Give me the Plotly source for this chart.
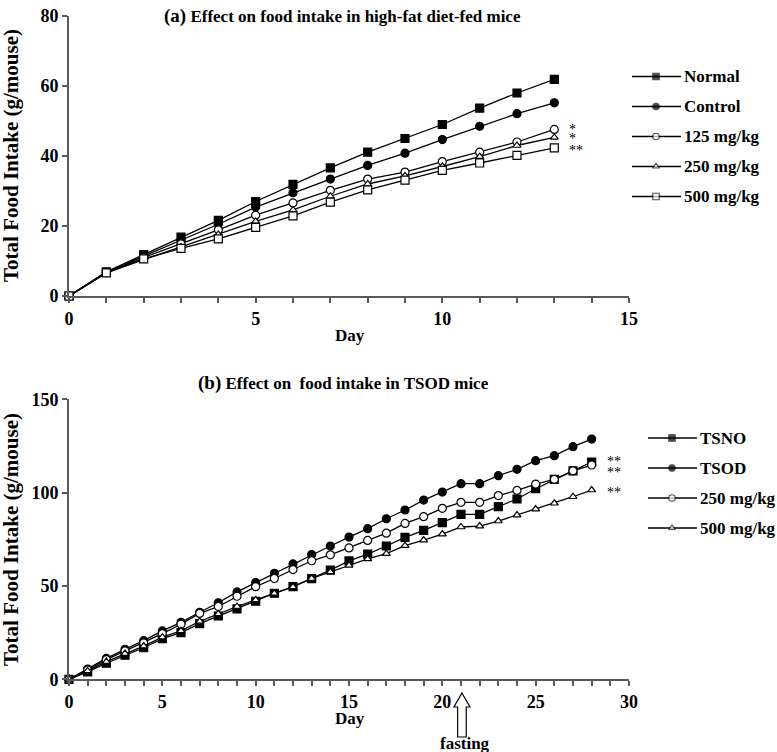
import plotly.graph_objects as go

W, H = 777, 752

# panel (a): high-fat diet-fed mice
days_a = list(range(0, 14))
normal = [0, 6.9, 11.8, 16.8, 21.6, 27.0, 31.9, 36.6, 41.1, 45.0, 49.0, 53.7, 58.0, 61.9]
control = [0, 6.8, 11.4, 16.0, 20.5, 25.4, 29.5, 33.4, 37.3, 40.8, 44.7, 48.5, 52.1, 55.2]
dose125 = [0, 6.7, 11.0, 14.9, 18.9, 23.1, 26.6, 30.2, 33.4, 35.4, 38.4, 41.1, 44.0, 47.6]
dose250_a = [0, 6.6, 10.4, 14.0, 17.6, 21.3, 24.6, 28.5, 32.0, 34.3, 37.0, 39.8, 43.0, 45.3]
dose500_a = [0, 6.6, 10.6, 13.6, 16.3, 19.6, 22.9, 26.8, 30.3, 33.1, 35.9, 38.0, 40.2, 42.3]
stars_a = ["*", "*", "**"]
stars_a_y = [47.6, 45.0, 41.6]

# panel (b): TSOD mice
days_b = list(range(0, 29))
tsno = [0, 4.0, 8.6, 12.9, 16.9, 21.8, 25.0, 29.8, 33.9, 37.7, 41.8, 46.1, 49.6, 53.9, 58.5,
        63.4, 67.1, 71.4, 76.0, 79.8, 83.9, 88.4, 88.4, 92.5, 96.6, 102.1, 107.1, 111.7, 116.4]
tsod = [0, 5.5, 11.2, 16.1, 20.7, 25.9, 30.5, 35.9, 41.0, 46.8, 51.8, 56.8, 61.8, 66.8, 71.4,
        76.2, 80.7, 86.0, 90.7, 96.0, 100.3, 104.8, 104.8, 109.1, 112.5, 117.1, 119.8, 124.6, 128.7]
dose250_b = [0, 5.0, 10.5, 15.2, 19.5, 24.5, 29.5, 35.3, 39.0, 44.5, 49.6, 54.0, 58.8, 63.5, 66.7,
             70.4, 74.4, 78.3, 83.5, 87.1, 91.6, 94.8, 94.8, 98.4, 101.2, 104.6, 107.1, 111.7, 114.8]
dose500_b = [0, 4.5, 9.5, 13.8, 17.8, 22.6, 26.0, 31.0, 35.0, 39.0, 42.5, 46.0, 49.5, 54.0, 57.5,
             61.0, 64.5, 67.3, 71.6, 74.6, 77.8, 81.6, 82.1, 84.8, 88.0, 91.2, 94.3, 97.8, 101.4]
stars_b = ["**", "**", "**"]
stars_b_y = [116.5, 110.8, 100.0]
fasting_day = 21

FONT = "Liberation Serif"

# plot areas in pixels
X0, X1 = 69, 629
A_TOP, A_BOT = 16, 296
B_TOP, B_BOT = 399.3, 679.3


def px(x):
    return x / W


def py(y):
    return 1 - y / H


fig = go.Figure()

series_a = [
    ("Normal", normal, "square", "black"),
    ("Control", control, "circle", "black"),
    ("125 mg/kg", dose125, "circle", "white"),
    ("250 mg/kg", dose250_a, "triangle-up", "white"),
    ("500 mg/kg", dose500_a, "square", "white"),
]
series_b = [
    ("TSNO", tsno, "square", "black"),
    ("TSOD", tsod, "circle", "black"),
    ("250 mg/kg", dose250_b, "circle", "white"),
    ("500 mg/kg", dose500_b, "triangle-up", "white"),
]


def msize(sym, big=True):
    if sym == "triangle-up":
        return 7 if big else 6
    return 8 if big else 6.5


for (series, days, xa, ya) in [(series_a, days_a, "x", "y"), (series_b, days_b, "x2", "y2")]:
    for name, vals, sym, fill in series:
        fig.add_trace(go.Scatter(
            x=days, y=vals, name=name, mode="lines+markers",
            xaxis=xa, yaxis=ya, cliponaxis=False, showlegend=False,
            line=dict(color="black", width=1.3),
            marker=dict(symbol=sym, size=msize(sym), color=fill,
                        line=dict(color="black", width=1.2)),
        ))

bold = dict(family=FONT, size=17, color="black", weight="bold")


def label(x, y, text, **kw):
    # free text placed on the hidden pixel-unit overlay axis
    kw.setdefault("font", bold)
    kw.setdefault("xanchor", "center")
    fig.add_annotation(x=x, y=y, xref="x3", yref="y3", text=text, showarrow=False,
                       yanchor="middle", **kw)


# legends drawn on the overlay axis
legend_specs = [(series_a, 632, 76.5), (series_b, 648, 438)]
row_gap = 30
for series, lx, ly in legend_specs:
    for i, (name, vals, sym, fill) in enumerate(series):
        yy = ly + i * row_gap
        fig.add_trace(go.Scatter(
            x=[lx, lx + 24, lx + 49], y=[yy, yy, yy], mode="lines+markers",
            xaxis="x3", yaxis="y3", showlegend=False, hoverinfo="skip",
            line=dict(color="black", width=1.3),
            marker=dict(symbol=sym, size=[0, msize(sym, False), 0], color=fill,
                        line=dict(color="black", width=1.1)),
        ))
        label(lx + 50, yy, name, xanchor="left")

axis_common = dict(showgrid=False, zeroline=False, showline=True, linecolor="#5a5a5a",
                   linewidth=2, ticks="outside", ticklen=5, tickwidth=1.5, tickcolor="#5a5a5a",
                   tickfont=dict(family=FONT, size=18, color="black", weight="bold"))

fig.update_layout(
    width=W, height=H,
    margin=dict(l=0, r=0, t=0, b=0, autoexpand=False),
    plot_bgcolor="rgba(0,0,0,0)", paper_bgcolor="white",
    font=dict(family=FONT, color="black"),
    showlegend=False,
    xaxis=dict(domain=[px(X0), px(X1)], range=[0, 15], anchor="y",
               tickvals=list(range(0, 16)),
               ticktext=[str(d) if d % 5 == 0 else "" for d in range(0, 16)],
               **axis_common),
    yaxis=dict(domain=[py(A_BOT), py(A_TOP)], range=[0, 80], anchor="x",
               tickvals=[0, 20, 40, 60, 80], **axis_common),
    xaxis2=dict(domain=[px(X0), px(X1)], range=[0, 30], anchor="y2",
                tickvals=list(range(0, 31)),
                ticktext=[str(d) if d % 5 == 0 else "" for d in range(0, 31)],
                **axis_common),
    yaxis2=dict(domain=[py(B_BOT), py(B_TOP)], range=[0, 150], anchor="x2",
                tickvals=[0, 50, 100, 150], **axis_common),
    xaxis3=dict(domain=[0, 1], range=[0, W], visible=False, fixedrange=True, anchor="y3"),
    yaxis3=dict(domain=[0, 1], range=[H, 0], visible=False, fixedrange=True, anchor="x3"),
)

label(342, 16, "<span style='font-size:19px'>(a)</span> Effect on food intake in high-fat diet-fed mice")
label(343, 383, "<span style='font-size:19px'>(b)</span> Effect on  food intake in TSOD mice")
label(350, 335, "Day")
label(350, 718, "Day")
label(11, 156, "Total Food Intake (g/mouse)", textangle=-90, font=dict(bold, size=21))
label(11, 540, "Total Food Intake (g/mouse)", textangle=-90, font=dict(bold, size=21))

star_font = dict(family=FONT, size=14, color="black")
for s, yv in zip(stars_a, stars_a_y):
    fig.add_annotation(x=days_a[-1], y=yv, xref="x", yref="y", text=s, showarrow=False,
                       xanchor="left", xshift=13, font=star_font)
for s, yv in zip(stars_b, stars_b_y):
    fig.add_annotation(x=days_b[-1], y=yv, xref="x2", yref="y2", text=s, showarrow=False,
                       xanchor="left", xshift=13, font=star_font)

# hollow arrow marking the fasting day
hw, sw = 0.43, 0.23
top, neck, bot = py(693), py(707), py(737)
f = fasting_day + 0.05
path = (f"M {f},{top} L {f + hw},{neck} L {f + sw},{neck} L {f + sw},{bot} "
        f"L {f - sw},{bot} L {f - sw},{neck} L {f - hw},{neck} Z")
fig.add_shape(type="path", path=path, xref="x2", yref="paper",
              line=dict(color="black", width=1.2), fillcolor="white")
label(X0 + (fasting_day + 0.2) / 30 * (X1 - X0), 743, "fasting")

fig.write_html("out.html", config={"displayModeBar": False},
               post_script="document.body.style.margin='0px';document.body.style.overflow='hidden';")
